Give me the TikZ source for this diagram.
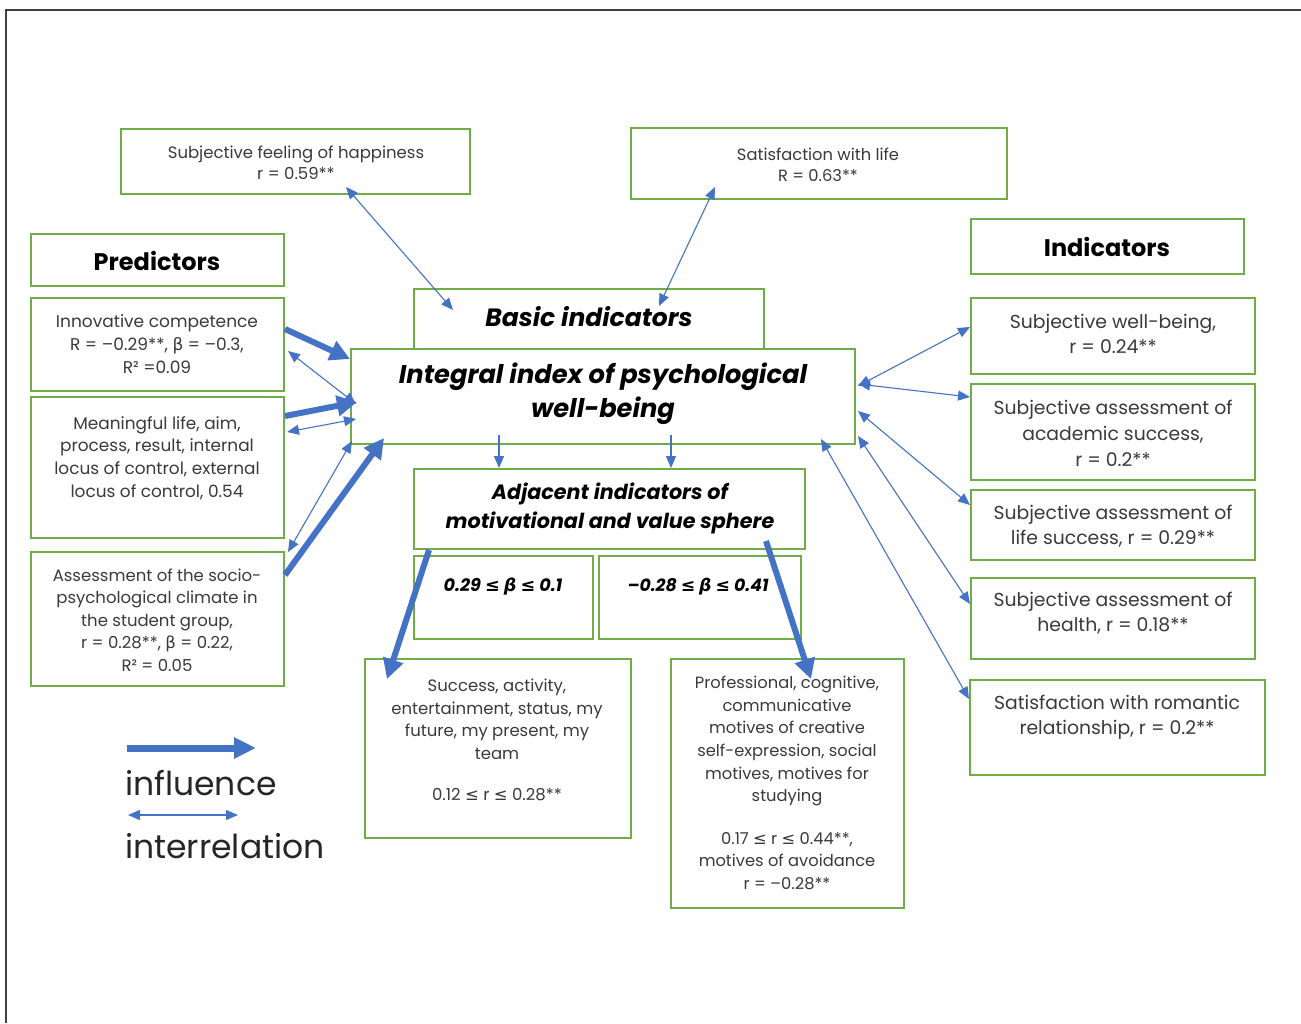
\documentclass[tikz,border=0pt]{standalone}
\usepackage{fontspec}
\setmainfont{Poppins}
\newfontfamily\symf{DejaVu Sans}
\usetikzlibrary{arrows.meta}
\definecolor{gbord}{HTML}{70AD47}
\definecolor{barrow}{HTML}{4472C4}
\definecolor{tgray}{HTML}{3A3A3A}
\newcommand{\mybeta}{{\symf β}}
\newcommand{\myle}{{\symf ≤}}
\begin{document}
\begin{tikzpicture}[x=1pt,y=-1pt,
  gbox/.style={draw=gbord, line width=2pt, fill=white, inner sep=0pt, rectangle},
  txt/.style={align=center, inner sep=0pt, text=tgray},
  head/.style={align=center, inner sep=0pt, text=black},
  infl/.style={draw=barrow, line width=6pt, -{Triangle[length=20pt,width=20pt]}},
  rel/.style={draw=barrow, line width=1.1pt, {Triangle[length=12pt,width=10pt]}-{Triangle[length=12pt,width=10pt]}},
  relone/.style={draw=barrow, line width=1.1pt, -{Triangle[length=12pt,width=10pt]}}
]
\useasboundingbox (0,0) rectangle (1301,1023);
\fill[white] (0,0) rectangle (1301,1023);
\draw[black!75, line width=1.5pt] (1301,10) -- (6,10) -- (6,1023);

% boxes
\node[gbox, minimum width=349pt, minimum height=65pt] (hap) at (295.5,161.5) {};
\node[gbox, minimum width=376pt, minimum height=71pt] (sat) at (819,163.5) {};
\node[gbox, minimum width=253pt, minimum height=52pt] (pred) at (157.5,260) {};
\node[gbox, minimum width=253pt, minimum height=93pt] (innov) at (157.5,344.5) {};
\node[gbox, minimum width=253pt, minimum height=141pt] (mean) at (157.5,467.5) {};
\node[gbox, minimum width=253pt, minimum height=134pt] (assess) at (157.5,619) {};
\node[gbox, minimum width=350pt, minimum height=60pt] (basic) at (589,319) {};
\node[gbox, minimum width=504pt, minimum height=95pt] (integ) at (603,396.5) {};
\node[gbox, minimum width=391pt, minimum height=80pt] (adj) at (609.5,509) {};
\node[gbox, minimum width=179pt, minimum height=83pt] (bA) at (503.5,597.5) {};
\node[gbox, minimum width=202pt, minimum height=83pt] (bB) at (700,597.5) {};
\node[gbox, minimum width=266pt, minimum height=179pt] (succ) at (498,748.5) {};
\node[gbox, minimum width=233pt, minimum height=249pt] (prof) at (787.5,783.5) {};
\node[gbox, minimum width=273pt, minimum height=55pt] (ind) at (1107.5,246.5) {};
\node[gbox, minimum width=284pt, minimum height=76pt] (swb) at (1113,336) {};
\node[gbox, minimum width=284pt, minimum height=96pt] (acad) at (1113,432) {};
\node[gbox, minimum width=284pt, minimum height=70pt] (life) at (1113,525) {};
\node[gbox, minimum width=284pt, minimum height=81pt] (health) at (1113,618.5) {};
\node[gbox, minimum width=295pt, minimum height=95pt] (rom) at (1117.5,727.5) {};

% texts
\node[txt, font=\fontsize{16.5}{21}\selectfont] (hapt) at (296,163) {Subjective feeling of happiness\\r = 0.59**};
\node[txt, font=\fontsize{16.3}{21}\selectfont] (satt) at (818,165) {Satisfaction with life\\R = 0.63**};
\node[head, font=\fontsize{24}{28}\selectfont\bfseries] (predt) at (157,261) {Predictors};
\node[txt, font=\fontsize{17}{23}\selectfont] (innovt) at (157,344) {Innovative competence\\R = –0.29**, \mybeta{} = –0.3,\\R² =0.09};
\node[txt, font=\fontsize{16.9}{22.7}\selectfont] (meant) at (157,458) {Meaningful life, aim,\\process, result, internal\\locus of control, external\\locus of control, 0.54};
\node[txt, font=\fontsize{16.5}{22.5}\selectfont] (assesst) at (157,620) {Assessment of the socio-\\psychological climate in\\the student group,\\r = 0.28**, \mybeta{} = 0.22,\\R² = 0.05};
\node[head, font=\fontsize{25}{30}\selectfont\bfseries\itshape] (basict) at (589,317) {Basic indicators};
\node[head, font=\fontsize{25.7}{34}\selectfont\bfseries\itshape] (integt) at (603,394) {Integral index of psychological\\well-being};
\node[head, font=\fontsize{20.7}{29}\selectfont\bfseries\itshape] (adjt) at (610,508) {Adjacent indicators of\\motivational and value sphere};
\node[head, font=\fontsize{17.6}{24}\selectfont\bfseries\itshape] (bAt) at (503,587) {0.29 \myle{} \mybeta{} \myle{} 0.1};
\node[head, font=\fontsize{17.3}{24}\selectfont\bfseries\itshape] (bBt) at (698,587) {–0.28 \myle{} \mybeta{} \myle{} 0.41};
\node[txt, font=\fontsize{16.5}{22.5}\selectfont] (succt) at (497,740) {Success, activity,\\entertainment, status, my\\future, my present, my\\team\\[19pt]0.12 \myle{} r \myle{} 0.28**};
\node[txt, font=\fontsize{16.3}{22.6}\selectfont] (proft) at (787,783) {Professional, cognitive,\\communicative\\motives of creative\\self-expression, social\\motives, motives for\\studying\\[20pt]0.17 \myle{} r \myle{} 0.44**,\\motives of avoidance\\r = –0.28**};
\node[head, font=\fontsize{24}{28}\selectfont\bfseries] (indt) at (1107,247) {Indicators};
\node[txt, font=\fontsize{18.8}{25}\selectfont] (swbt) at (1113,334) {Subjective well-being,\\r = 0.24**};
\node[txt, font=\fontsize{18.8}{26}\selectfont] (acadt) at (1113,433) {Subjective assessment of\\academic success,\\r = 0.2**};
\node[txt, font=\fontsize{18.8}{25}\selectfont] (lifet) at (1113,526) {Subjective assessment of\\life success, r = 0.29**};
\node[txt, font=\fontsize{18.8}{25}\selectfont] (healtht) at (1113,613) {Subjective assessment of\\health, r = 0.18**};
\node[txt, font=\fontsize{18.8}{25}\selectfont] (romt) at (1117,717) {Satisfaction with romantic\\relationship, r = 0.2**};

% influence arrows
\draw[infl] ([yshift=-32pt]innov.north east) -- ([yshift=-11pt]integ.north west);
\draw[infl] ([yshift=-20pt]mean.north east) -- ([xshift=7pt,yshift=-54pt]integ.north west);
\draw[infl] ([yshift=-24pt]assess.north east) -- ([xshift=34pt,yshift=7pt]integ.south west);
\draw[infl] ([xshift=16pt]adj.south west) -- ([xshift=23pt,yshift=-21pt]succ.north west);
\draw[infl] ([xshift=-40pt,yshift=9pt]adj.south east) -- ([xshift=141pt,yshift=-21pt]prof.north west);

% interrelations
\draw[rel] ([xshift=-125pt,yshift=8pt]hap.south east) -- ([xshift=40pt,yshift=-22pt]basic.north west);
\draw[rel] ([xshift=85pt,yshift=13pt]sat.south west) -- ([xshift=246pt,yshift=-18pt]basic.north west);
\draw[rel] ([xshift=3pt,yshift=-54pt]innov.north east) -- ([xshift=6pt,yshift=-56pt]integ.north west);
\draw[rel] ([xshift=2pt,yshift=-36pt]mean.north east) -- ([xshift=6pt,yshift=-71pt]integ.north west);
\draw[rel] ([xshift=3pt,yshift=-1pt]assess.north east) -- ([xshift=2pt,yshift=4pt]integ.south west);
\draw[relone] ([xshift=149pt,yshift=10pt]integ.south west) -- ([xshift=86pt]adj.north west);
\draw[relone] ([xshift=321pt,yshift=10pt]integ.south west) -- ([xshift=258pt]adj.north west);
\draw[rel] ([xshift=2pt,yshift=-38pt]integ.north east) -- ([yshift=-30pt]swb.north west);
\draw[rel] ([xshift=2pt,yshift=-36pt]integ.north east) -- ([yshift=-14pt]acad.north west);
\draw[rel] ([xshift=2pt,yshift=-63pt]integ.north east) -- ([yshift=-16pt]life.north west);
\draw[rel] ([xshift=2pt,yshift=-88pt]integ.north east) -- ([yshift=-27pt]health.north west);
\draw[rel] ([xshift=-35pt,yshift=6pt]integ.south east) -- ([yshift=-20pt]rom.north west);

% legend
\coordinate (la) at (127,748);
\coordinate (lb) at (256,748);
\coordinate (lc) at (128,815);
\coordinate (ld) at (238,815);
\draw[draw=barrow, line width=7pt, -{Triangle[length=22pt,width=20pt]}] (la) -- (lb);
\draw[rel] (lc) -- (ld);
\node[anchor=west, inner sep=0pt, text=black!85, font=\fontsize{33}{36}\selectfont] (linf) at (125,783) {influence};
\node[anchor=west, inner sep=0pt, text=black!85, font=\fontsize{33}{36}\selectfont] (lint) at (125,846) {interrelation};
\end{tikzpicture}
\end{document}
